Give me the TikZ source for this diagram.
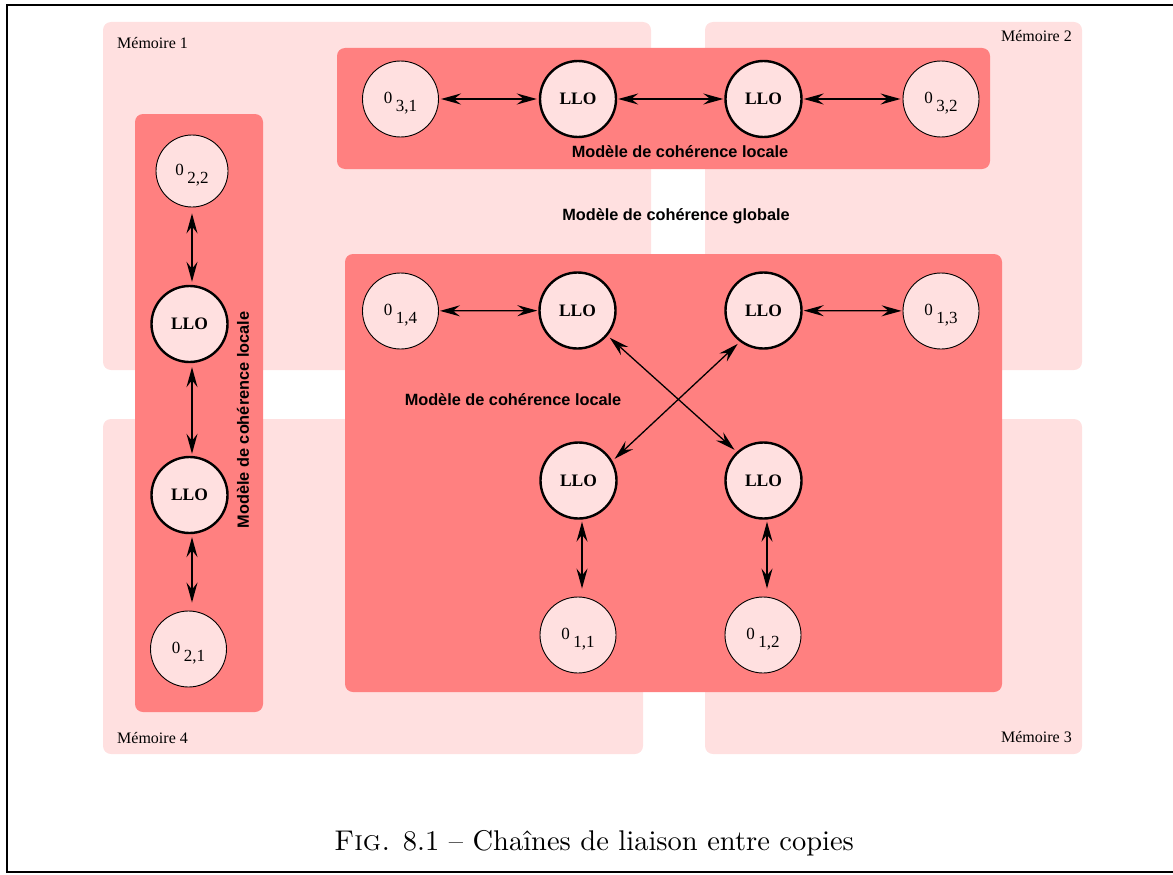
\documentclass[tikz,border=0pt]{standalone}
\usepackage{fontspec}
\newfontfamily\tms{Liberation Serif}
\newfontfamily\hlv{Liberation Sans}
\newfontfamily\capfont{lmroman10-regular.otf}[SmallCapsFont=lmromancaps10-regular.otf,Ligatures=TeX]
\usetikzlibrary{arrows.meta}
\definecolor{memfill}{RGB}{255,224,224}
\definecolor{modfill}{RGB}{255,128,128}
\newcommand\objlab[1]{\rule{0pt}{19pt}0\hspace{3.5pt}\raisebox{-8pt}{#1}}
\begin{document}
\begin{tikzpicture}[x=1pt,y=-1pt,
  mem/.style={fill=memfill, rounded corners=8pt},
  modbox/.style={fill=modfill, rounded corners=8pt},
  obj/.style={circle, draw, line width=0.9pt, fill=memfill, minimum size=76pt, inner sep=0pt, font=\tms\fontsize{17}{17}\selectfont},
  llo/.style={circle, draw, line width=2.4pt, fill=memfill, minimum size=76pt, inner sep=0pt, font=\tms\bfseries\fontsize{17.5}{17.5}\selectfont},
  memlabel/.style={font=\tms\fontsize{16}{16}\selectfont, inner sep=0pt},
  modlabel/.style={font=\hlv\bfseries\fontsize{16.3}{16.3}\selectfont, inner sep=0pt},
  link/.style={{Stealth[length=20pt,width=11pt,inset=7pt]}-{Stealth[length=20pt,width=11pt,inset=7pt]}, line width=1.3pt, shorten <=3pt, shorten >=3pt},
]
\useasboundingbox (0,0) rectangle (1173,875);
% frame
\draw[line width=2.2pt] (1175,5) -- (7,5) -- (7,872) -- (1175,872);
% memories
\fill[mem] (103,22) rectangle (651,370);
\fill[mem] (705,22) rectangle (1082,370);
\fill[mem] (103,419) rectangle (643,754);
\fill[mem] (705,419) rectangle (1082,754);
\node[memlabel, anchor=base west] (m1) at (117,49) {Mémoire 1};
\node[memlabel, anchor=base east] (m2) at (1072,42) {Mémoire 2};
\node[memlabel, anchor=base west] (m4) at (117,743) {Mémoire 4};
\node[memlabel, anchor=base east] (m3) at (1072,742) {Mémoire 3};
% coherence model boxes
\fill[modbox] (337,48) rectangle (990,169);
\fill[modbox] (135,114) rectangle (263,712);
\fill[modbox] (345,254) rectangle (1002,692);
% top row
\node[obj] (o31) at (400.5,99) {\objlab{3,1}};
\node[llo] (t1) at (578,99) {LLO};
\node[llo] (t2) at (763.5,99) {LLO};
\node[obj] (o32) at (941,99) {\objlab{3,2}};
% left column
\node[obj, minimum size=72pt] (o22) at (192,171) {\objlab{2,2}};
\node[llo] (l1) at (189.5,324) {LLO};
\node[llo] (l2) at (189.5,495) {LLO};
\node[obj] (o21) at (188.5,649) {\objlab{2,1}};
% big box
\node[obj] (o14) at (400.5,311) {\objlab{1,4}};
\node[llo] (b1) at (577.5,310.5) {LLO};
\node[llo] (b2) at (763.5,310.5) {LLO};
\node[obj] (o13) at (941,311) {\objlab{1,3}};
\node[llo] (b3) at (578.5,480.5) {LLO};
\node[llo] (b4) at (763.5,480.5) {LLO};
\node[obj] (o11) at (578,635) {\objlab{1,1}};
\node[obj] (o12) at (763,635) {\objlab{1,2}};
% links
\draw[link, line width=2.2pt, shorten <=2pt, shorten >=2pt] (o31) -- (t1);
\draw[link, shorten <=1pt, shorten >=1pt] (t1) -- (t2);
\draw[link, shorten <=1pt, shorten >=2pt] (t2) -- (o32);
\draw[link, shorten <=6pt, shorten >=3pt] ([xshift=0pt]o22.south) -- ([xshift=2.5pt]l1.north);
\draw[link, shorten <=4pt, shorten >=2pt] ([xshift=2.5pt]l1.south) -- ([xshift=2.5pt]l2.north);
\draw[link, shorten <=3pt, shorten >=8pt] ([xshift=2.5pt]l2.south) -- ([xshift=3.5pt]o21.north);
\draw[link, shorten <=1pt, shorten >=1pt] (o14) -- (b1);
\draw[link, shorten <=1pt, shorten >=1pt] (b2) -- (o13);
\draw[link] (b1.-40) -- (b4.133);
\draw[link] (b3.30) -- (b2.-127);
\draw[link, shorten <=2pt, shorten >=8pt] ([xshift=3.5pt]b3.south) -- ([xshift=4pt]o11.north);
\draw[link, shorten <=2pt, shorten >=8pt] ([xshift=3.5pt]b4.south) -- ([xshift=4pt]o12.north);
% labels
\node[modlabel, anchor=base] (lt) at (680,157) {Modèle de cohérence locale};
\node[modlabel, anchor=base] (lg) at (676,220) {Modèle de cohérence globale};
\node[modlabel, anchor=base] (lb) at (513,405) {Modèle de cohérence locale};
\node[modlabel, rotate=90] (lv) at (243,420) {Modèle de cohérence locale};
% caption
\node[font=\capfont\fontsize{28.5}{28.5}\selectfont, anchor=base, inner sep=0pt] (cap) at (594,850) {\textsc{Fig.} 8.1 – Chaînes de liaison entre copies};
\end{tikzpicture}
\end{document}
